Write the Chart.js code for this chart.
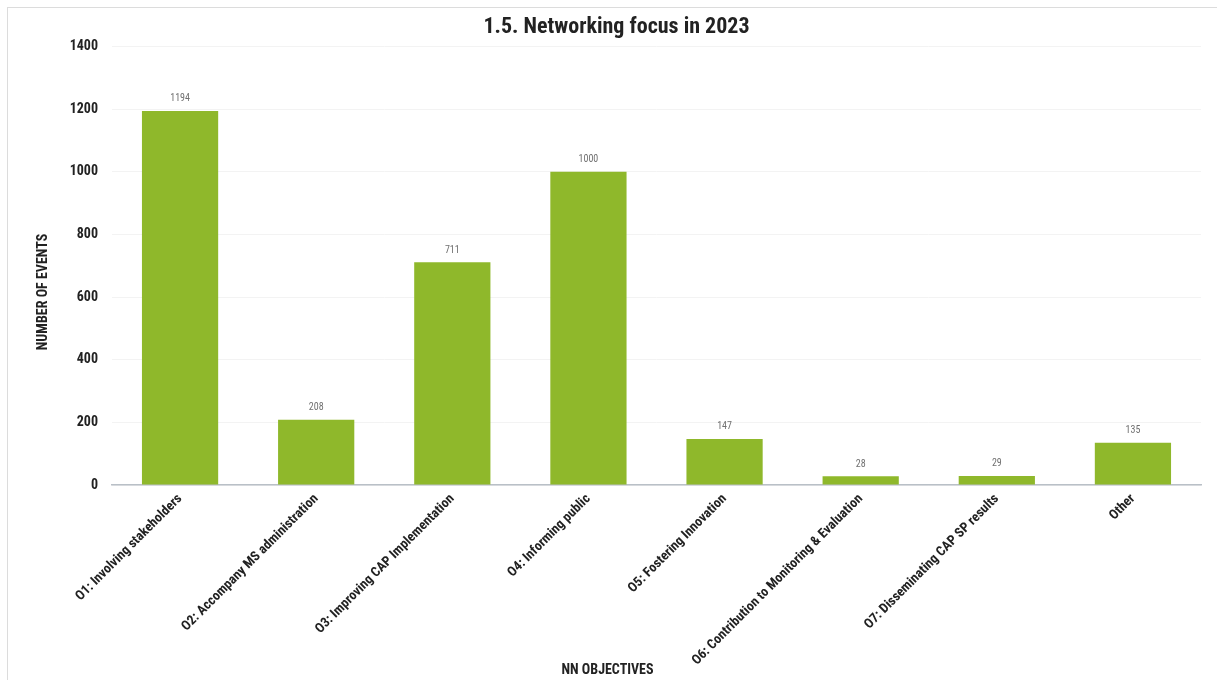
<!DOCTYPE html>
<html>
<head>
<meta charset="utf-8">
<title>Networking focus in 2023</title>
<script src="https://cdn.jsdelivr.net/npm/chart.js@4/dist/chart.umd.min.js"></script>
<style>
  html, body { margin: 0; padding: 0; background: #fff; }
  #wrap {
    position: absolute;
    left: 7px;
    top: 7px;
    width: 1209px;
    height: 672px;
    border-top: 1px solid #dcdcdc;
    border-left: 1px solid #dcdcdc;
  }
  #chart { display: block; }
</style>
</head>
<body>
<div id="wrap"><canvas id="chart" width="1209" height="672"></canvas></div>
<script>
const objectives = [
  'O1: Involving stakeholders',
  'O2: Accompany MS administration',
  'O3: Improving CAP Implementation',
  'O4: Informing public',
  'O5: Fostering Innovation',
  'O6: Contribution to Monitoring & Evaluation',
  'O7: Disseminating CAP SP results',
  'Other'
];
const eventCounts = [1194, 208, 711, 1000, 147, 28, 29, 135];
const yTicks = [0, 200, 400, 600, 800, 1000, 1200, 1400];
const xAxisTitle = 'NN OBJECTIVES';
const yAxisTitle = 'NUMBER OF EVENTS';

// condensed face; the stretch keyword rides along in the weight slot of Chart.js font strings
const FONT = 'Roboto, sans-serif';
const BOLD = 'bold condensed';

// value printed above each bar
const barValues = {
  id: 'barValues',
  afterDatasetsDraw(chart) {
    const ctx = chart.ctx;
    const meta = chart.getDatasetMeta(0);
    ctx.save();
    ctx.font = 'condensed 10px ' + FONT;
    ctx.fillStyle = '#707070';
    ctx.textAlign = 'center';
    ctx.textBaseline = 'bottom';
    meta.data.forEach((bar, i) => {
      ctx.fillText(String(eventCounts[i]), bar.x, bar.y - 7);
    });
    ctx.restore();
  }
};

// axis titles, placed a little off the plot centre like the original export
const axisTitles = {
  id: 'axisTitles',
  afterDraw(chart) {
    const ctx = chart.ctx;
    const area = chart.chartArea;
    ctx.save();
    ctx.font = BOLD + ' 14px ' + FONT;
    ctx.fillStyle = '#222';
    ctx.textAlign = 'center';
    ctx.textBaseline = 'middle';
    ctx.fillText(xAxisTitle, area.left + area.width * 0.455, chart.height - 10);
    ctx.translate(35, area.top + area.height * 0.56);
    ctx.rotate(-Math.PI / 2);
    ctx.fillText(yAxisTitle, 0, 0);
    ctx.restore();
  }
};

new Chart(document.getElementById('chart'), {
  type: 'bar',
  data: {
    labels: objectives,
    datasets: [{
      data: eventCounts,
      backgroundColor: '#8fb82b',
      categoryPercentage: 1,
      barPercentage: 0.56
    }]
  },
  options: {
    responsive: false,
    animation: false,
    layout: { padding: { left: 24, right: 16, top: 0, bottom: 0 } },
    plugins: {
      legend: { display: false },
      tooltip: { enabled: false },
      title: {
        display: true,
        text: '1.5. Networking focus in 2023',
        color: '#222',
        font: { family: FONT, size: 22, weight: BOLD },
        padding: { top: 6, bottom: 6 }
      }
    },
    scales: {
      x: {
        grid: { display: false, drawTicks: false },
        border: { display: true, color: '#b9c0c7', width: 1.5 },
        ticks: {
          color: '#222',
          font: { family: FONT, size: 13.5, weight: BOLD },
          minRotation: 45,
          maxRotation: 45,
          autoSkip: false,
          padding: 6
        },
        afterFit(scale) { scale.height = 195; }
      },
      y: {
        min: 0,
        max: 1400,
        afterBuildTicks(scale) {
          scale.ticks = yTicks.map(v => ({ value: v }));
        },
        grid: { color: '#f3f3f3', drawTicks: false, lineWidth: 1 },
        border: { display: false },
        ticks: {
          color: '#222',
          font: { family: FONT, size: 14, weight: BOLD },
          padding: 14,
          callback: v => String(v)
        },
        afterFit(scale) { scale.width = 80; }
      }
    }
  },
  plugins: [barValues, axisTitles]
});
</script>
</body>
</html>
